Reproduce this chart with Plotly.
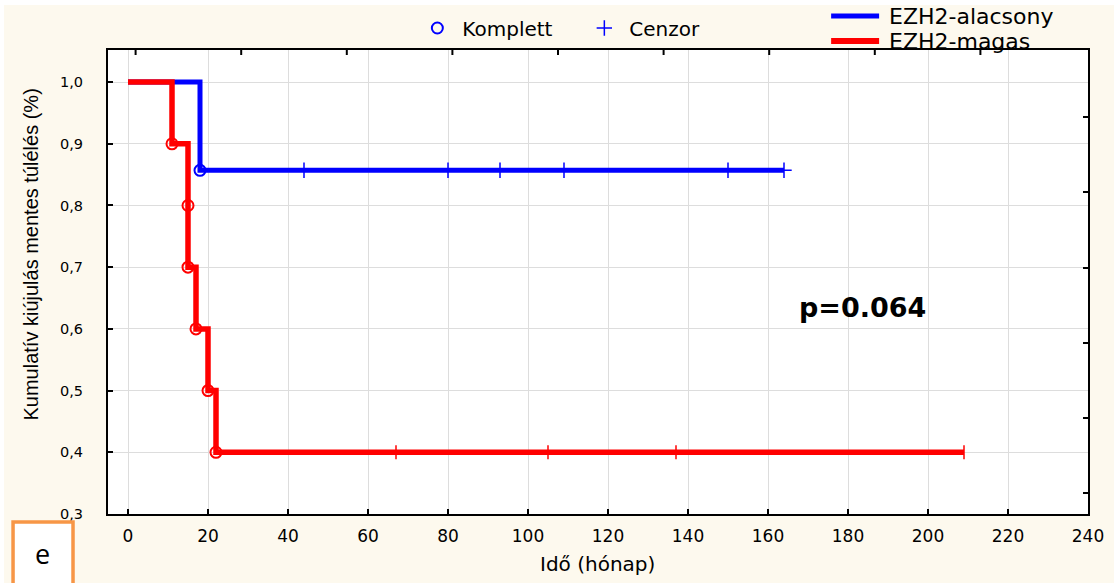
import plotly.graph_objects as go

# ---- data ----
blue_step_t = [0, 18, 164]
blue_step_s = [1.0, 0.857, 0.857]
blue_event_t = [18]
blue_event_s = [0.857]
blue_cens_t = [44, 80, 93, 109, 150, 164]
blue_cens_s = [0.857, 0.857, 0.857, 0.857, 0.857, 0.857]

red_step_t = [0, 11, 15, 17, 20, 22, 209]
red_step_s = [1.0, 0.9, 0.7, 0.6, 0.5, 0.4, 0.4]
red_event_t = [11, 15, 15, 17, 20, 22]
red_event_s = [0.9, 0.8, 0.7, 0.6, 0.5, 0.4]
red_cens_t = [67, 105, 137, 209]
red_cens_s = [0.4, 0.4, 0.4, 0.4]

x_ticks = [0, 20, 40, 60, 80, 100, 120, 140, 160, 180, 200, 220, 240]
y_ticks = [0.3, 0.4, 0.5, 0.6, 0.7, 0.8, 0.9, 1.0]
# unlabelled frame ticks on the top and right borders
top_ticks = [1.9, 28.3, 54.7, 81.1, 107.5, 133.9, 160.3, 186.7, 213.1]
right_ticks = [0.334, 0.455, 0.577, 0.699, 0.822, 0.944]
group_names = ["EZH2-alacsony", "EZH2-magas"]

X_RANGE = [-5, 240]
Y_RANGE = [0.3, 1.052]

BLUE = "#0000FF"
RED = "#FF0000"
WIDE = "DejaVu Sans, Verdana, sans-serif"
ARIAL = "Liberation Sans, Arial, sans-serif"

# page offset (body margin) and figure size
OX, OY = 4, 5
W, H = 1114 - OX, 583 - OY
# plot area in screen pixels
SL, SR, ST, SB = 107.5, 1088, 50, 514
L, R, T, B = SL - OX, W - (SR - OX), ST - OY, H - (SB - OY)


def px(xs):
    return (xs - SL) / (SR - SL)


def py(ys):
    return (SB - ys) / (SB - ST)


fig = go.Figure()

fig.add_trace(go.Scatter(x=blue_step_t, y=blue_step_s, mode="lines", line_shape="hv",
                         line=dict(color=BLUE, width=5), name=group_names[0],
                         showlegend=False))
fig.add_trace(go.Scatter(x=red_step_t, y=red_step_s, mode="lines", line_shape="hv",
                         line=dict(color=RED, width=5.5), name=group_names[1],
                         showlegend=False))

fig.add_trace(go.Scatter(x=red_event_t, y=red_event_s, mode="markers",
                         marker=dict(symbol="circle-open", size=11, color=RED,
                                     line=dict(width=2, color=RED)),
                         showlegend=False))
fig.add_trace(go.Scatter(x=red_cens_t, y=red_cens_s, mode="markers",
                         marker=dict(symbol="line-ns-open", size=10, color=RED,
                                     line=dict(width=1.5, color=RED)),
                         showlegend=False))
fig.add_trace(go.Scatter(x=blue_event_t, y=blue_event_s, mode="markers",
                         marker=dict(symbol="circle-open", size=11, color=BLUE,
                                     line=dict(width=2, color=BLUE)),
                         name="Komplett"))
fig.add_trace(go.Scatter(x=blue_cens_t, y=blue_cens_s, mode="markers",
                         marker=dict(symbol="cross-thin-open", size=11, color=BLUE,
                                     line=dict(width=1.5, color=BLUE)),
                         name="Cenzor"))
# invisible trace to activate the right frame axis
fig.add_trace(go.Scatter(x=[X_RANGE[0]], y=[Y_RANGE[0]], xaxis="x", yaxis="y2",
                         mode="markers", marker=dict(opacity=0), showlegend=False,
                         hoverinfo="skip"))

# top frame ticks (x in data units, pointing into the plot)
tick_len_paper = 5 / (SB - ST)
for t in top_ticks:
    fig.add_shape(type="line", xref="x", yref="paper", x0=t, x1=t,
                  y0=1, y1=1 - tick_len_paper, line=dict(color="black", width=2))

# group legend (lines + labels)
for i, (name, col, wd) in enumerate(zip(group_names, [BLUE, RED], [5, 6])):
    ys = 16 + 25 * i
    fig.add_shape(type="line", xref="paper", yref="paper", x0=px(831), x1=px(879),
                  y0=py(ys), y1=py(ys), line=dict(color=col, width=wd))
    fig.add_annotation(xref="paper", yref="paper", x=px(887), y=py(ys), text=name,
                       xanchor="left", yanchor="middle", showarrow=False,
                       font=dict(family=WIDE, size=22, color="black"))

fig.add_annotation(x=183.5, y=0.635, xref="x", yref="y", text="<b>p=0.064</b>",
                   xanchor="center", yanchor="middle",
                   showarrow=False, font=dict(family=WIDE, size=27, color="black"))

fig.add_annotation(x=px(30), y=py(255), xref="paper", yref="paper",
                   text="Kumulatív kiújulás mentes túlélés (%)",
                   textangle=-90, showarrow=False, xanchor="center", yanchor="middle",
                   font=dict(family=ARIAL, size=20, color="black"))
fig.add_annotation(x=px(597), y=py(564), xref="paper", yref="paper",
                   text="Idő (hónap)", showarrow=False, xanchor="center", yanchor="middle",
                   font=dict(family=WIDE, size=20, color="black"))

# orange "e" box
fig.add_shape(type="rect", xref="paper", yref="paper",
              x0=px(12.5), x1=px(72.5), y0=py(592), y1=py(522),
              line=dict(color="#F79646", width=3.5), fillcolor="white")
fig.add_annotation(xref="paper", yref="paper", x=px(42), y=py(553), text="e",
                   xanchor="center", yanchor="middle",
                   showarrow=False, font=dict(family="Open Sans, Noto Sans", size=27, color="black"))

fig.update_layout(
    width=W, height=H,
    margin=dict(l=L, r=R, t=T, b=B, autoexpand=False),
    paper_bgcolor="#FDF9EE",
    plot_bgcolor="white",
    separators=", ",
    font=dict(family=WIDE, color="black", size=15),
    legend=dict(orientation="h", x=px(412), xanchor="left", y=py(28), yanchor="middle",
                bgcolor="rgba(0,0,0,0)", font=dict(size=20, family=WIDE),
                itemwidth=40, entrywidth=112, tracegroupgap=0),
    showlegend=True,
    yaxis2=dict(overlaying="y", side="right", anchor="x", type="linear", range=Y_RANGE,
                tickmode="array", tickvals=right_ticks,
                ticks="inside", ticklen=5, tickwidth=2, tickcolor="black",
                showticklabels=False, showgrid=False, zeroline=False, showline=False),
)

fig.layout.xaxis.update(range=X_RANGE, tickvals=x_ticks, ticks="inside", ticklen=5,
                        tickwidth=1.5, tickcolor="black", showline=True, linecolor="black",
                        linewidth=2, mirror=True, showgrid=True, gridcolor="#DDDDDD",
                        gridwidth=1, zeroline=False, tickfont=dict(size=17, family=WIDE),
                        ticklabelstandoff=6)
fig.layout.yaxis.update(range=Y_RANGE, tickvals=y_ticks, tickformat=".1f", ticks="inside",
                        ticklen=5, tickwidth=1.5, tickcolor="black", showline=True,
                        linecolor="black", linewidth=2, mirror=True, showgrid=True,
                        gridcolor="#DDDDDD", gridwidth=1, zeroline=False,
                        tickfont=dict(size=14.5, family=WIDE), ticklabelstandoff=20)

fig.write_html("out.html",
               post_script="document.body.style.margin='%dpx 0 0 %dpx';"
                           "document.body.style.overflow='hidden';" % (OY, OX))
